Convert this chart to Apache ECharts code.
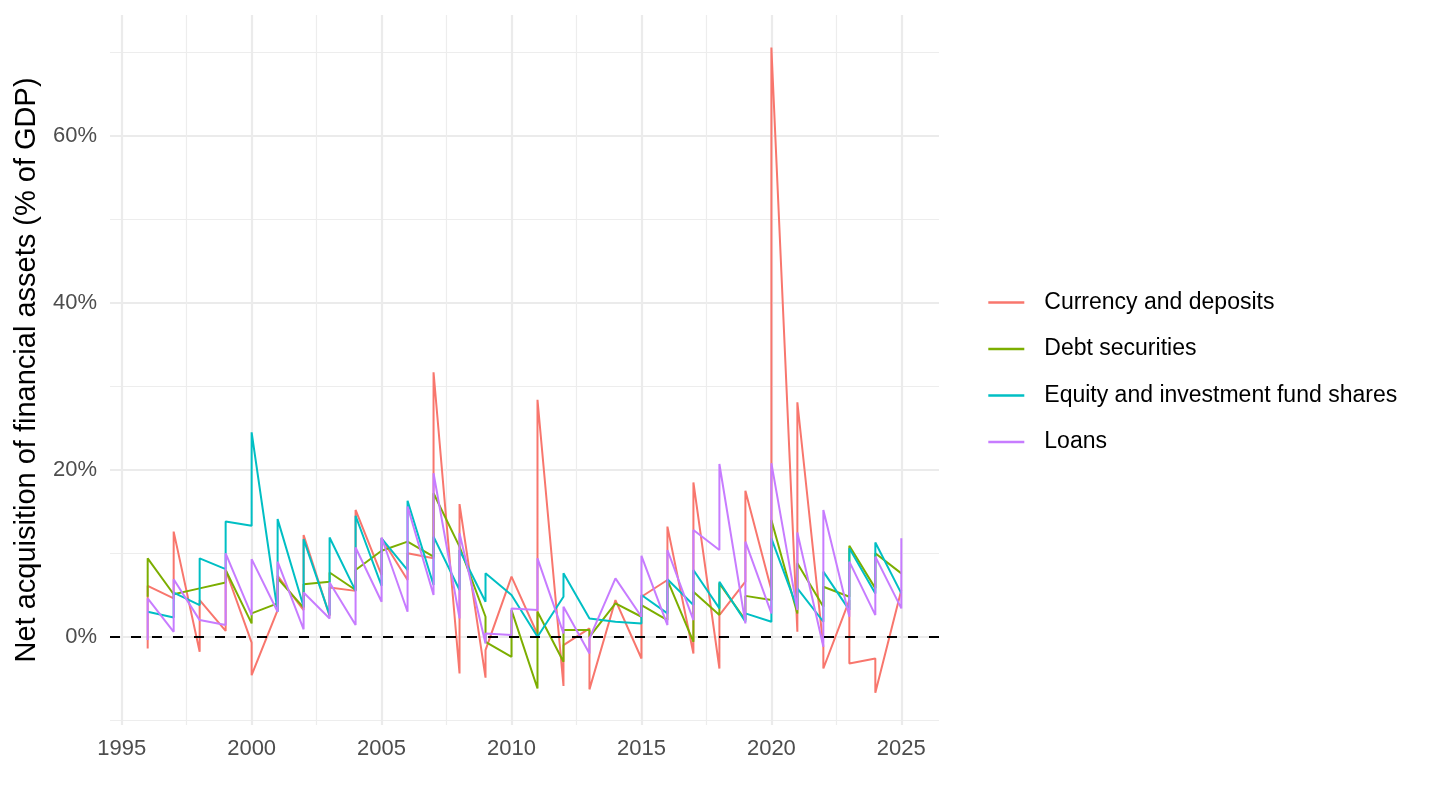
<!DOCTYPE html>
<html lang="en">
<head>
    <meta charset="UTF-8">
    <title>Net acquisition of financial assets</title>
    <script src="https://cdn.jsdelivr.net/npm/echarts@6.0.0/dist/echarts.min.js"></script>
    <style>
        html, body {margin: 0; padding: 0; background: #fff;}
        #chart {width: 1440px; height: 810px;}
    </style>
</head>
<body>
<div id="chart"></div>
<script>
    // one entry per year, each holding the quarterly points drawn at that year (in order)
    var years = [1996, 1997, 1998, 1999, 2000, 2001, 2002, 2003, 2004, 2005,
                 2006, 2007, 2008, 2009, 2010, 2011, 2012, 2013, 2014, 2015,
                 2016, 2017, 2018, 2019, 2020, 2021, 2022, 2023, 2024, 2025];

    var currencyDeposits = [
        [-1.4, 6.1], [4.6, 12.6], [-1.8, 4.4], [0.7, 8.0], [-0.7, -4.6],
        [3.2, 7.3], [3.2, 12.2], [2.5, 5.9], [5.5, 15.2], [7.4, 11.8],
        [6.8, 10.0], [9.4, 31.7], [-4.4, 15.9], [-4.9, -1.6], [7.2],
        [0.3, 28.4], [-5.9, -1.0], [1.0, -6.3], [4.4], [-2.6, 4.8],
        [6.8, 13.2], [-2.0, 18.5], [-3.8, 2.6], [6.6, 17.5], [5.6, 70.6],
        [0.6, 28.1], [-1.2, -3.8], [4.4, -3.2], [-2.6, -6.7], [5.6]
    ];
    var debtSecurities = [
        [4.8, 9.4], [5.1], [5.8], [6.5, 8.0], [1.6, 2.8],
        [4.0, 7.0], [3.5, 6.3], [6.6, 7.7], [5.6, 8.0], [10.3],
        [11.4], [9.6, 17.2], [10.8], [2.4, -0.6], [-2.4, 3.2],
        [-6.2, 3.0], [-3.0, 0.8], [0.8, 0.0], [4.0], [2.4, 3.8],
        [2.0, 6.8], [-0.6, 5.4], [2.6, 6.4], [2.0, 4.9], [4.4, 14.0],
        [2.8, 8.8], [3.6, 6.0], [4.8, 10.9], [5.8, 10.0], [7.6]
    ];
    var equityFunds = [
        [3.0], [2.3, 5.3], [3.8, 9.4], [8.1, 13.8], [13.3, 24.5],
        [3.0, 14.1], [3.6, 11.7], [2.6, 11.9], [5.5, 14.5], [6.1, 11.8],
        [8.0, 16.3], [6.2, 12.0], [5.6, 10.4], [4.2, 7.6], [5.0],
        [0.0], [4.8, 7.6], [2.2], [1.8], [1.6, 5.0],
        [2.8, 6.9], [3.8, 8.0], [3.4, 6.6], [1.8, 2.8], [1.8, 11.8],
        [3.4, 5.8], [1.8, 7.8], [3.2, 10.6], [5.2, 11.3], [5.2]
    ];
    var loans = [
        [-0.4, 4.6], [0.6, 6.9], [2.0], [1.4, 10.0], [2.6, 9.3],
        [3.0, 9.0], [0.9, 5.3], [2.2, 6.5], [1.4, 10.7], [4.2, 11.9],
        [3.0, 15.6], [5.0, 19.6], [2.2, 12.4], [-0.8, 0.4], [0.2, 3.4],
        [3.2, 9.4], [0.4, 3.6], [-2.0, -0.2], [7.0], [2.4, 9.7],
        [1.4, 10.4], [2.0, 12.8], [10.4, 20.7], [1.6, 11.4], [2.8, 20.8],
        [3.2, 12.5], [-1.2, 15.2], [2.4, 9.0], [2.6, 9.6], [3.4, 11.8]
    ];

    var seriesNames = ['Currency and deposits', 'Debt securities', 'Equity and investment fund shares', 'Loans'];
    var seriesColors = ['#F8766D', '#7CAE00', '#00BFC4', '#C77CFF'];

    var xMajor = [1995, 2000, 2005, 2010, 2015, 2020, 2025];
    var xMinor = [1997.5, 2002.5, 2007.5, 2012.5, 2017.5, 2022.5];
    var yMajor = [0, 20, 40, 60];
    var yMinor = [-10, 10, 30, 50, 70];

    function toPoints(groups) {
        var pts = [];
        for (var i = 0; i < groups.length; i++) {
            for (var j = 0; j < groups[i].length; j++) {
                pts.push([years[i], groups[i][j]]);
            }
        }
        return pts;
    }

    var font = 'Liberation Sans, Arial, Helvetica, sans-serif';
    var xMin = 1994.55, xMax = 2026.45, yMin = -10.57, yMax = 74.5;

    var allData = [currencyDeposits, debtSecurities, equityFunds, loans];
    var series = [];
    for (var k = 0; k < allData.length; k++) {
        series.push({
            name: seriesNames[k],
            type: 'line',
            data: toPoints(allData[k]),
            symbol: 'none',
            color: seriesColors[k],
            lineStyle: {width: 2, color: seriesColors[k]},
            animation: false
        });
    }
    series[3].markLine = {
        silent: true,
        symbol: ['none', 'none'],
        label: {show: false},
        lineStyle: {color: '#000', type: [10, 11], width: 2},
        data: [{yAxis: 0}],
        animation: false
    };

    var chart = echarts.init(document.getElementById('chart'));
    chart.setOption({
        backgroundColor: '#fff',
        animation: false,
        textStyle: {fontFamily: font},
        grid: {left: 110, right: 501, top: 15, bottom: 85, containLabel: false},
        legend: {
            orient: 'vertical',
            left: 982,
            top: 286,
            itemWidth: 36,
            itemHeight: 14,
            itemGap: 23.5,
            data: seriesNames,
            itemStyle: {color: 'rgba(0,0,0,0)', borderWidth: 0, opacity: 0},
            lineStyle: {width: 2.6},
            textStyle: {fontSize: 23, color: '#000', fontFamily: font, padding: [0, 0, 0, 15]}
        },
        xAxis: [{
            type: 'value',
            min: xMin,
            max: xMax,
            axisLine: {show: false},
            axisTick: {show: false, customValues: xMajor},
            axisLabel: {
                customValues: xMajor,
                color: '#4D4D4D',
                fontSize: 22,
                margin: 13,
                formatter: function (v) { return String(v); }
            },
            splitLine: {show: true, lineStyle: {color: '#EBEBEB', width: 2.2}}
        }, {
            type: 'value',
            min: xMin,
            max: xMax,
            position: 'bottom',
            axisLine: {show: false},
            axisTick: {show: false, customValues: xMinor},
            axisLabel: {show: false},
            splitLine: {show: true, lineStyle: {color: '#EDEDED', width: 1.2}}
        }],
        yAxis: [{
            type: 'value',
            min: yMin,
            max: yMax,
            name: 'Net acquisition of financial assets (% of GDP)',
            nameLocation: 'middle',
            nameRotate: 90,
            nameGap: 69,
            nameTextStyle: {fontSize: 29, color: '#000', fontFamily: font},
            axisLine: {show: false},
            axisTick: {show: false, customValues: yMajor},
            axisLabel: {
                customValues: yMajor,
                color: '#4D4D4D',
                fontSize: 22,
                margin: 13,
                formatter: function (v) { return v + '%'; }
            },
            splitLine: {show: true, lineStyle: {color: '#EBEBEB', width: 2.2}}
        }, {
            type: 'value',
            min: yMin,
            max: yMax,
            position: 'left',
            axisLine: {show: false},
            axisTick: {show: false, customValues: yMinor},
            axisLabel: {show: false},
            splitLine: {show: true, lineStyle: {color: '#EDEDED', width: 1.2}}
        }],
        series: series
    });
</script>
</body>
</html>
